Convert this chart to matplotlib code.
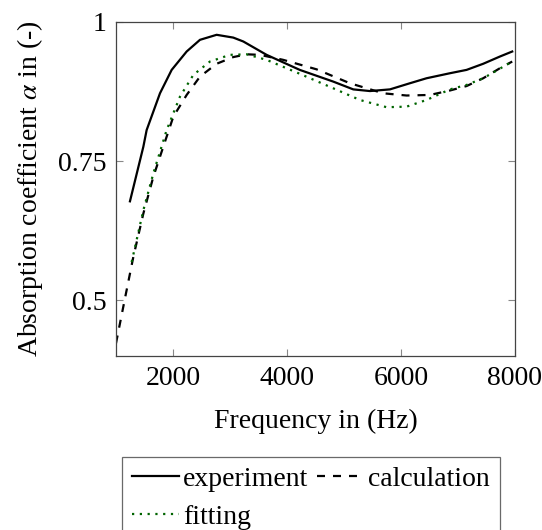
import matplotlib
matplotlib.use("Agg")
import matplotlib.pyplot as plt
import numpy as np

exp_f = [1245, 1480, 1538, 1772, 1977, 2240, 2474, 2766, 3058, 3234, 3643, 4225, 4812, 5164, 5456, 5807, 6157, 6450, 6860, 7152, 7444, 7737, 7953]
exp_a = [0.678, 0.776, 0.806, 0.872, 0.914, 0.947, 0.968, 0.977, 0.972, 0.965, 0.941, 0.914, 0.893, 0.879, 0.876, 0.879, 0.890, 0.899, 0.908, 0.914, 0.925, 0.938, 0.947]

calc_f = [1000, 1158, 1304, 1480, 1655, 1830, 2006, 2240, 2474, 2766, 3058, 3292, 3526, 3935, 4520, 5105, 5690, 6099, 6508, 6860, 7152, 7444, 7737, 7953]
calc_a = [0.423, 0.504, 0.578, 0.656, 0.722, 0.776, 0.830, 0.869, 0.902, 0.925, 0.937, 0.942, 0.941, 0.932, 0.915, 0.890, 0.872, 0.868, 0.869, 0.877, 0.885, 0.899, 0.917, 0.929]

fit_f = [1275, 1480, 1655, 1889, 2123, 2357, 2649, 2999, 3292, 3643, 4225, 4812, 5280, 5748, 6099, 6450, 6860, 7152, 7444, 7953]
fit_a = [0.569, 0.662, 0.728, 0.806, 0.866, 0.905, 0.929, 0.941, 0.942, 0.932, 0.907, 0.881, 0.860, 0.847, 0.848, 0.860, 0.879, 0.887, 0.899, 0.929]

xticks = [2000, 4000, 6000, 8000]
yticks = [0.5, 0.75, 1.0]
yticklabels = ["0.5", "0.75", "1"]

plt.rcParams['font.family'] = ['Liberation Serif', 'DejaVu Serif']
plt.rcParams['mathtext.fontset'] = 'stix'

FS = 20

fig = plt.figure(figsize=(5.42, 5.30), dpi=100)
ax = fig.add_axes([0.214, 0.328, 0.736, 0.6305])

l1, = ax.plot(exp_f, exp_a, color='black', lw=1.6, ls='-', label='experiment')
l2, = ax.plot(calc_f, calc_a, color='black', lw=1.6, ls=(0, (3.6, 3.6)), label='calculation')
l3, = ax.plot(fit_f, fit_a, color='#006400', lw=1.6, ls=(0, (1, 2.5)), label='fitting')

ax.set_xlim(1000, 8000)
ax.set_ylim(0.4, 1.0)
ax.set_xticks(xticks)
ax.set_xticklabels([str(t) for t in xticks])
ax.set_yticks(yticks)
ax.set_yticklabels(yticklabels)
ax.tick_params(direction='in', top=True, right=True, length=5, width=0.8,
               color='#888888', labelsize=FS, pad=7)
for s in ax.spines.values():
    s.set_color('#444444')
    s.set_linewidth(0.9)

ax.set_xlabel('Frequency in (Hz)', fontsize=FS, labelpad=13)
ax.set_ylabel(r'Absorption coefficient $\alpha$ in (-)', fontsize=FS, labelpad=9)

leg = fig.legend([l1, l3, l2], ['experiment', 'fitting', 'calculation'],
                 loc='upper left', bbox_to_anchor=(0.225, 0.1377), ncol=2,
                 fontsize=FS, frameon=True, fancybox=False, edgecolor='#444444',
                 handlelength=1.7, handletextpad=0.15, columnspacing=0.3,
                 borderpad=0.35, labelspacing=0.45, borderaxespad=0)
leg.get_frame().set_linewidth(0.9)

fig.savefig('out.png', dpi=100)
